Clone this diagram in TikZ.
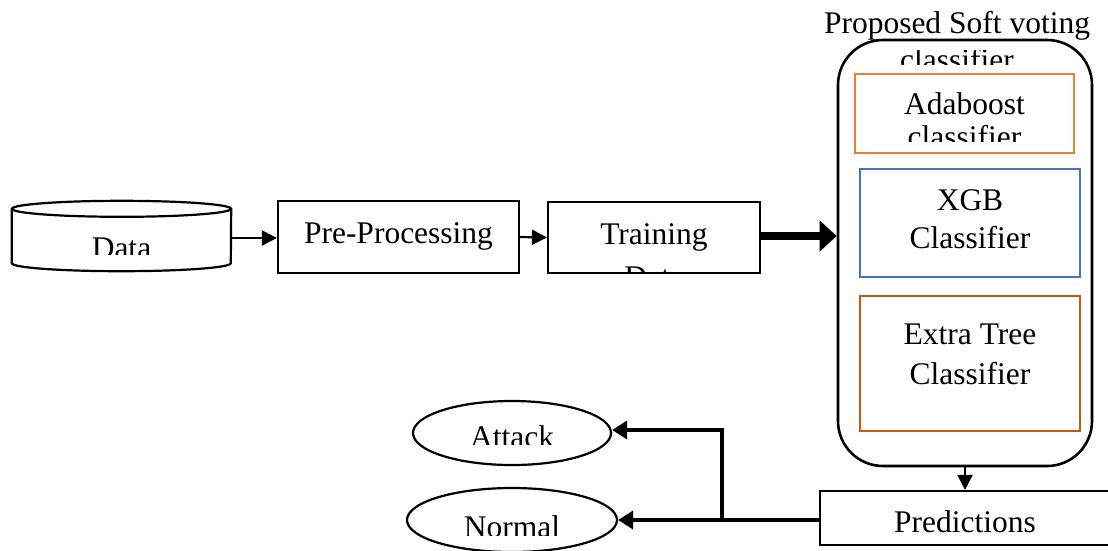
\documentclass[tikz,border=0pt]{standalone}
\usepackage{fontspec}
\setmainfont{Liberation Serif}
\usetikzlibrary{arrows.meta,shapes.geometric}

\definecolor{adaorange}{RGB}{237,125,49}
\definecolor{xgbblue}{RGB}{68,114,196}
\definecolor{treeorange}{RGB}{197,90,17}

\tikzset{
  box/.style={draw, line width=2.2pt, inner sep=0pt},
  oval/.style={draw, ellipse, line width=2.2pt, inner sep=0pt},
  lbl/.style={anchor=base, inner sep=0pt, font=\fontsize{31.5}{36}\selectfont},
  flow/.style={-{Triangle[length=15pt,width=15pt]}, line width=2.2pt},
  outflow/.style={-{Triangle[length=15pt,width=18pt]}, line width=3.4pt},
}

\begin{document}
\begin{tikzpicture}[x=1pt,y=1pt,yscale=-1]
\useasboundingbox (0,0) rectangle (1108,550);

%Shape: Cylinder
\node[minimum width=219pt, minimum height=54pt, inner sep=0pt] (data) at (121.5,236) {};
\draw[line width=2.2pt] (data.north west) -- (data.south west)
  arc[start angle=180, end angle=0, x radius=109.5, y radius=8] -- (data.north east);
\draw[line width=2.2pt] (data.north) ellipse [x radius=109.5, y radius=8];

%Shape: Rectangles
\node[box, minimum width=241pt, minimum height=72pt] (prep) at (398.5,237) {};
\node[box, minimum width=212pt, minimum height=71pt] (train) at (654,237.5) {};

%Shape: Rounded Rectangle
\node[box, line width=2.6pt, rounded corners=45pt, minimum width=254pt, minimum height=426pt] (ens) at (965,253) {};
\node[box, draw=adaorange, line width=2.4pt, minimum width=219pt, minimum height=79pt] (ada) at (964.5,113.5) {};
\node[box, draw=xgbblue, line width=2.4pt, minimum width=220pt, minimum height=108pt] (xgb) at (970,223) {};
\node[box, draw=treeorange, line width=2.4pt, minimum width=220pt, minimum height=135pt] (xtree) at (970,363.5) {};

\node[box, minimum width=290pt, minimum height=54pt] (pred) at (965,518) {};

%Shape: Ellipses
\node[oval, minimum width=198pt, minimum height=64pt] (attack) at (512,433) {};
\node[oval, minimum width=210pt, minimum height=64pt] (normal) at (512,520) {};

% Text Node
\begin{scope}
\clip (12,200) rectangle (231,254);
\node[lbl] (datatxt) at (121.5,258) {Data};
\end{scope}
% Text Node
\node[lbl] (preptxt) at (398.5,243) {Pre-Processing};
% Text Node
\begin{scope}
\clip (549,203) rectangle (759,271);
\node[lbl] (traintxt) at (654,244) {Training};
\node[lbl] (traintxt2) at (654,287) {Data};
\end{scope}
% Text Node
\node[lbl] (enstxt) at (957,33) {Proposed Soft voting};
\begin{scope}
\clip (840,50) rectangle (1090,64);
\node[lbl] (enstxt2) at (957,70) {classifier};
\end{scope}
% Text Node
\begin{scope}
\clip (856,75) rectangle (1073,141);
\node[lbl] (adatxt) at (964.5,114) {Adaboost};
\node[lbl] (adatxt2) at (964.5,147) {classifier};
\end{scope}
% Text Node
\node[lbl] (xgbtxt) at (970,210) {XGB};
\node[lbl] (xgbtxt2) at (970,248) {Classifier};
% Text Node
\node[lbl] (xtreetxt) at (970,344) {Extra Tree};
\node[lbl] (xtreetxt2) at (970,384) {Classifier};
% Text Node
\node[lbl] (predtxt) at (965,532) {Predictions};
% Text Node
\begin{scope}
\clip (414,400) rectangle (611,444);
\node[lbl] (attacktxt) at (512,447) {Attack};
\end{scope}
\begin{scope}
\clip (408,488) rectangle (617,535);
\node[lbl] (normaltxt) at (512,537) {Normal};
\end{scope}

%Arrows
\draw[flow] ([yshift=2pt]data.east) -- ([yshift=2pt]data.east -| prep.west);
\draw[flow] (prep.east) -- (train.west);
\draw[line width=8pt, -{Triangle[length=17pt,width=30pt]}] ([yshift=-1.5pt]train.east) -- ([yshift=-1.5pt]train.east -| ens.west);
\draw[flow] (ens.south -| pred.north) -- (pred.north);
\coordinate (split) at (722,520);
\draw[outflow] (pred.west |- split) -- (normal.east);
\draw[outflow] (split) |- ([yshift=-3pt]attack.east);

\end{tikzpicture}
\end{document}
